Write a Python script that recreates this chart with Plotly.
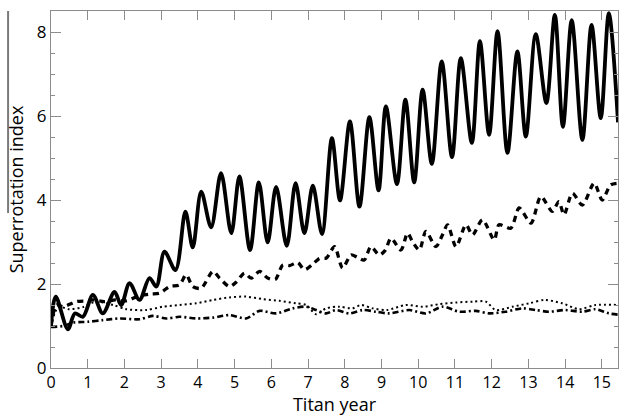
import plotly.graph_objects as go

# Superrotation index vs. time (Titan years) for four simulations
solid_t = [0.0, 0.13, 0.46, 0.65, 0.87, 1.14, 1.41, 1.73, 1.91, 2.14, 2.41, 2.68, 2.87, 3.09, 3.39,
           3.66, 3.86, 4.09, 4.36, 4.63, 4.91, 5.13, 5.42, 5.66, 5.90, 6.13, 6.42, 6.66, 6.90, 7.13,
           7.38, 7.65, 7.87, 8.14, 8.40, 8.67, 8.92, 9.12, 9.42, 9.65, 9.89, 10.12, 10.37, 10.64,
           10.92, 11.16, 11.46, 11.68, 11.93, 12.16, 12.43, 12.70, 12.93, 13.20, 13.49, 13.72,
           13.94, 14.18, 14.47, 14.72, 14.97, 15.19, 15.44]
solid_v = [1.0, 1.70, 0.92, 1.30, 1.22, 1.74, 1.30, 1.81, 1.50, 2.02, 1.62, 2.14, 1.94, 2.77, 2.33,
           3.72, 2.87, 4.20, 3.35, 4.64, 3.21, 4.56, 2.81, 4.42, 2.99, 4.31, 2.91, 4.40, 3.21, 4.34,
           3.19, 5.47, 3.99, 5.87, 3.84, 5.97, 4.23, 6.23, 4.38, 6.39, 4.42, 6.63, 4.86, 7.30,
           5.02, 7.38, 5.36, 7.78, 5.55, 8.02, 5.12, 7.54, 5.51, 7.95, 6.31, 8.41,
           5.74, 8.28, 5.43, 8.17, 5.95, 8.45, 5.85]

dash_t = [0.0, 0.15, 0.33, 0.69, 1.0, 1.14, 1.45, 1.75, 2.05, 2.4, 2.7, 2.96, 3.23, 3.5, 3.68,
          3.86, 4.09, 4.41, 4.59, 4.86, 5.05, 5.27, 5.45, 5.68, 5.90, 6.11, 6.31, 6.50, 6.72, 6.90,
          7.10, 7.31, 7.50, 7.72, 7.94, 8.17, 8.35, 8.53, 8.71, 8.94, 9.10, 9.26, 9.53, 9.71, 9.85,
          10.03, 10.21, 10.48, 10.66, 10.80, 11.03, 11.30, 11.48, 11.75, 12.07, 12.20, 12.52, 12.75,
          13.07, 13.34, 13.65, 13.83, 13.97, 14.20, 14.47, 14.79, 15.01, 15.24, 15.44]
dash_v = [1.0, 1.5, 1.46, 1.58, 1.6, 1.62, 1.58, 1.62, 1.60, 1.72, 1.76, 1.78, 1.94, 1.98, 2.22,
          1.94, 1.90, 2.30, 2.14, 1.94, 2.05, 2.26, 2.14, 2.30, 2.14, 2.11, 2.45, 2.44, 2.51, 2.34,
          2.45, 2.61, 2.62, 2.89, 2.38, 2.69, 2.63, 2.57, 2.89, 2.69, 2.80, 3.09, 2.81, 3.21, 3.00,
          2.81, 3.25, 2.89, 3.17, 3.41, 2.89, 3.41, 3.17, 3.53, 3.05, 3.41, 3.33, 3.81,
          3.45, 4.08, 3.73, 3.96, 3.65, 4.16, 3.88, 4.40, 4.00, 4.36, 4.40]

dot_t = [0.0, 0.2, 0.5, 0.87, 1.23, 1.69, 2.05, 2.59, 3.05, 3.5, 3.95, 4.41, 4.86, 5.31, 5.77,
         6.22, 6.67, 6.95, 7.22, 7.49, 7.85, 8.21, 8.44, 8.76, 9.15, 9.66, 10.12, 10.57, 11.03,
         11.48, 11.84, 12.11, 12.57, 13.02, 13.45, 13.92, 14.38, 14.83, 15.44]
dot_v = [1.0, 1.45, 1.4, 1.45, 1.58, 1.50, 1.40, 1.38, 1.46, 1.50, 1.54, 1.62, 1.68, 1.70, 1.64,
         1.60, 1.54, 1.50, 1.28, 1.42, 1.46, 1.42, 1.50, 1.42, 1.38, 1.50, 1.46, 1.52, 1.56,
         1.58, 1.58, 1.38, 1.46, 1.54, 1.62, 1.54, 1.40, 1.50, 1.50]

dd_t = [0.0, 0.33, 0.6, 1.0, 1.41, 1.87, 2.41, 2.77, 3.14, 3.5, 3.95, 4.41, 4.86, 5.31, 5.68,
        6.13, 6.58, 6.95, 7.22, 7.49, 7.76, 8.12, 8.49, 8.85, 9.21, 9.76, 10.21, 10.66, 11.12,
        11.57, 11.93, 12.38, 12.84, 13.2, 13.56, 14.0, 14.47, 14.83, 15.19, 15.44]
dd_v = [0.98, 1.0, 1.08, 1.10, 1.14, 1.18, 1.16, 1.24, 1.18, 1.22, 1.18, 1.20, 1.26, 1.18, 1.36,
        1.30, 1.42, 1.46, 1.38, 1.30, 1.38, 1.30, 1.38, 1.34, 1.30, 1.38, 1.30, 1.46, 1.34,
        1.36, 1.30, 1.34, 1.42, 1.38, 1.34, 1.38, 1.34, 1.40, 1.30, 1.27]

x_ticks = list(range(0, 16))
y_ticks = [0, 2, 4, 6, 8]

FONT = "Open Sans"
AXIS_GREY = "#8c8c8c"

fig = go.Figure()
fig.add_trace(go.Scatter(x=dot_t, y=dot_v, mode="lines",
                         line=dict(color="black", width=2, dash="2px,3px", shape="spline", smoothing=0.8)))
fig.add_trace(go.Scatter(x=dd_t, y=dd_v, mode="lines",
                         line=dict(color="black", width=2.6, dash="6px,3px,2px,3px", shape="spline", smoothing=0.8)))
fig.add_trace(go.Scatter(x=dash_t, y=dash_v, mode="lines",
                         line=dict(color="black", width=3.3, dash="6px,5px", shape="spline", smoothing=0.8)))
fig.add_trace(go.Scatter(x=solid_t, y=solid_v, mode="lines",
                         line=dict(color="black", width=3.8, shape="spline", smoothing=0.9)))

fig.update_layout(
    width=619, height=416,
    margin=dict(l=51, r=1, t=11, b=48),
    plot_bgcolor="white", paper_bgcolor="white",
    showlegend=False,
    font=dict(family=FONT, size=16, color="black"),
    xaxis=dict(
        range=[0, 15.44], tickvals=x_ticks, ticktext=[str(v) for v in x_ticks],
        ticks="inside", ticklen=9, tickcolor=AXIS_GREY, tickwidth=1,
        showline=True, linecolor=AXIS_GREY, linewidth=1, mirror="ticks",
        showgrid=False, zeroline=False,
        tickfont=dict(size=16),
        title=dict(text="Titan year", font=dict(size=18), standoff=3),
    ),
    yaxis=dict(
        range=[0, 8.5], tickvals=y_ticks,
        ticks="inside", ticklen=10, tickcolor=AXIS_GREY, tickwidth=1,
        minor=dict(dtick=0.5, ticks="inside", ticklen=4, tickcolor=AXIS_GREY),
        showline=True, linecolor=AXIS_GREY, linewidth=1, mirror="ticks",
        showgrid=False, zeroline=False,
        tickfont=dict(size=17),
        title=dict(text="Superrotation index", font=dict(size=18), standoff=8),
    ),
    shapes=[dict(type="line", xref="paper", yref="paper",
                 x0=-0.0757, x1=-0.0757, y0=0.434, y1=1.0,
                 line=dict(color="#7a7a7a", width=2))],
)

fig.write_html("out.html")
